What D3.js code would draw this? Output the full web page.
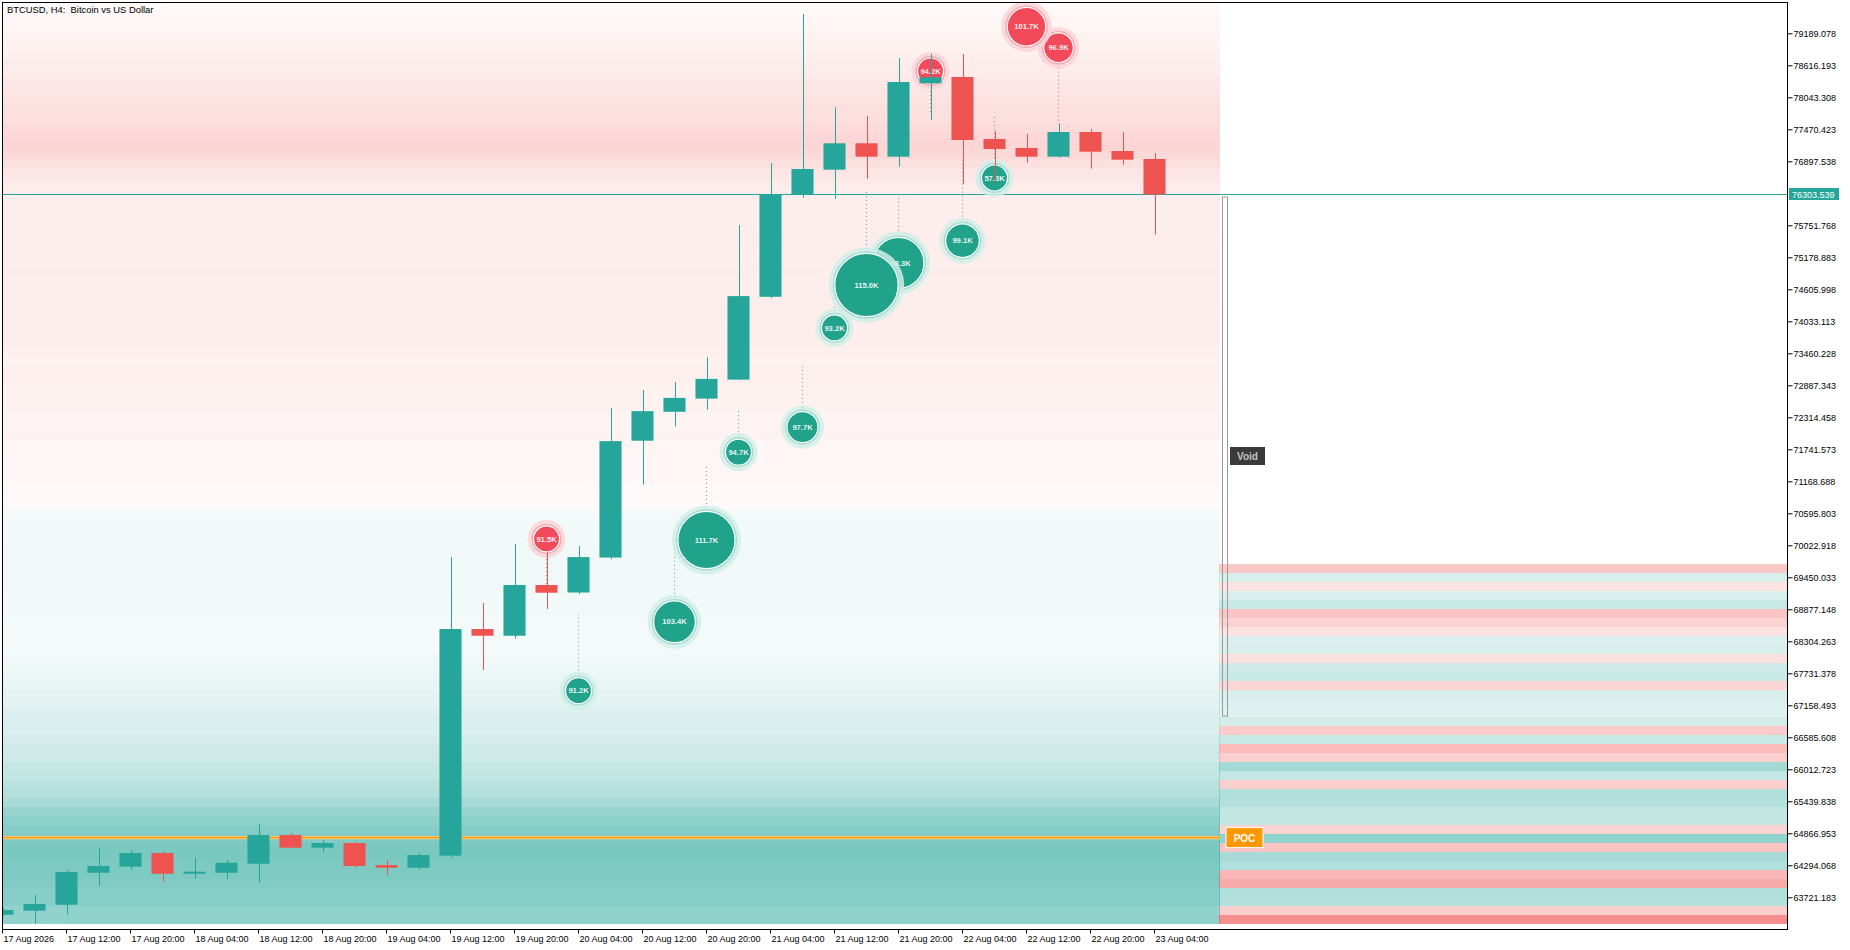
<!DOCTYPE html>
<html>
<head>
<meta charset="utf-8">
<script src="https://cdn.jsdelivr.net/npm/d3@7"></script>
<style>
  html, body { margin: 0; padding: 0; background: #fff; }
  svg { display: block; font-family: "Liberation Sans", Arial, sans-serif; }
</style>
</head>
<body>
<div id="chart"></div>
<script>
// candles, 4h bars from 17 Aug 04:00
const opens  = [63409, 63481, 63588, 64161, 64269, 64514, 64143, 64161, 64322, 64836, 64609, 64693, 64299, 64251, 64466, 68524, 68404, 69312, 69178, 69804, 71895, 72413, 72649, 72989, 74472, 76307, 76747, 77220, 76980, 78294, 78407, 77297, 77136, 76980, 77422, 77082, 76939];
const highs  = [63529, 63762, 64210, 64604, 64568, 64550, 64425, 64389, 65033, 64872, 64747, 64716, 64389, 64518, 69813, 68990, 70046, 69902, 70010, 72483, 72803, 72945, 73392, 75757, 76867, 79535, 77864, 77709, 78747, 78819, 78819, 77440, 77386, 77578, 77476, 77422, 77046];
const lows   = [63386, 63255, 63409, 63929, 64210, 64000, 64049, 64049, 63982, 64604, 64518, 64251, 64120, 64210, 64430, 67790, 68351, 68882, 69146, 69772, 71109, 72152, 72452, 72982, 74450, 76246, 76228, 76581, 76801, 77637, 76491, 76514, 76872, 76962, 76765, 76837, 75583];
const closes = [63493, 63601, 64174, 64281, 64514, 64143, 64179, 64340, 64836, 64609, 64693, 64281, 64251, 64478, 68524, 68404, 69312, 69174, 69812, 71888, 72425, 72662, 73002, 74484, 76307, 76760, 77220, 76980, 78317, 78401, 77279, 77118, 76980, 77422, 77069, 76926, 76303.539];

const timeLabels = ["17 Aug 2026", "17 Aug 12:00", "17 Aug 20:00", "18 Aug 04:00", "18 Aug 12:00", "18 Aug 20:00",
  "19 Aug 04:00", "19 Aug 12:00", "19 Aug 20:00", "20 Aug 04:00", "20 Aug 12:00", "20 Aug 20:00",
  "21 Aug 04:00", "21 Aug 12:00", "21 Aug 20:00", "22 Aug 04:00", "22 Aug 12:00", "22 Aug 20:00", "23 Aug 04:00"];

const priceLabels = ["63721.183", "64294.068", "64866.953", "65439.838", "66012.723", "66585.608", "67158.493",
  "67731.378", "68304.263", "68877.148", "69450.033", "70022.918", "70595.803", "71168.688", "71741.573",
  "72314.458", "72887.343", "73460.228", "74033.113", "74605.998", "75178.883", "75751.768", "76897.538",
  "77470.423", "78043.308", "78616.193", "79189.078"];

// volume bubbles
const bubbleBar   = [17, 18, 21, 22, 23, 25, 26, 27, 28, 30, 31, 29, 32, 33];
const bubbleVol   = [91.5, 91.2, 103.4, 111.7, 94.7, 97.7, 93.2, 115.0, 108.3, 99.1, 57.3, 94.2, 101.7, 96.9];
const bubbleSide  = ["sell", "buy", "buy", "buy", "buy", "buy", "buy", "buy", "buy", "buy", "buy", "sell", "sell", "sell"];
const bubblePrice = [70137, 67420, 68653, 70118, 71691, 72139, 73915, 74683, 75079, 75476, 76599, 78514, 79307, 78931];
const bubbleLink  = [69330, 68793, 70207, 71448, 72452, 73258, 74647, 76384, 76366, 76921, 77709, 77762, null, 77578];

// price heat rows (bin 0 at the bottom)
const binBase = 63243;
const binSize = 161.13;
const buyHeat = [0.50, 0.50, 0.55, 0.55, 0.58, 0.60, 0.60, 0.61, 0.61, 0.59, 0.56, 0.52, 0.48, 0.40, 0.35, 0.32,
  0.28, 0.27, 0.23, 0.22, 0.20, 0.17, 0.17, 0.16, 0.13, 0.12, 0.11, 0.09, 0.08, 0.07, 0.05, 0.05,
  0.05, 0.05, 0.06, 0.06, 0.06, 0.07, 0.07, 0.07, 0.07, 0.07, 0.06, 0.06, 0.06, 0.05];
const sellHeat = [0.03, 0.04, 0.04, 0.05, 0.05, 0.05, 0.06, 0.06, 0.07, 0.07, 0.07, 0.08, 0.08, 0.08, 0.09, 0.09,
  0.08, 0.09, 0.10, 0.10, 0.10, 0.11, 0.11, 0.10, 0.10, 0.10, 0.11, 0.10, 0.10, 0.11, 0.11, 0.10,
  0.10, 0.10, 0.10, 0.11, 0.13, 0.15, 0.18, 0.22, 0.24, 0.23, 0.21, 0.19, 0.18, 0.17, 0.15, 0.14,
  0.12, 0.11, 0.09, 0.08, 0.07, 0.06, 0.05, 0.04, 0.03];
// session profile rows, + buy / - sell
const profileDelta = [-0.65, -0.28, 0.35, 0.36, -0.49, -0.42, 0.36, 0.40, -0.34, 0.51, -0.26, 0.28, 0.28, 0.35,
  0.36, -0.28, 0.27, 0.42, -0.28, -0.39, 0.25, -0.30, 0.20, 0.15, 0.16, 0.175, -0.24, 0.25, 0.23, -0.18,
  0.175, 0.165, -0.17, -0.26, -0.34, 0.25, 0.175, -0.17, 0.19, -0.32];

const lastPrice = 76303.539;
const pocPrice = 64790;
const voidTop = 76258;
const voidBottom = 66966;

const UP = "#26a69a", DOWN = "#ef5350";

const width = 1850, height = 950;
const frame = { left: 2, top: 2, right: 1787, bottom: 929 };
const heatRight = 1220;

const svg = d3.select("#chart").append("svg")
  .attr("width", width)
  .attr("height", height);

svg.append("defs").append("clipPath").attr("id", "plotClip")
  .append("rect")
  .attr("x", frame.left).attr("y", frame.top)
  .attr("width", frame.right - frame.left).attr("height", frame.bottom - frame.top);

const y = d3.scaleLinear().domain([63721.183, 79189.078]).range([897.3, 33.3]);
const x = d3.scaleBand()
  .domain(d3.range(opens.length))
  .range([-13.5, 1170.5])
  .paddingInner(0.31)
  .paddingOuter(0.155);
const cx = i => x(i) + x.bandwidth() / 2;

const plot = svg.append("g").attr("clip-path", "url(#plotClip)");

// heat rows behind the candles
const heatRows = buyHeat.map((a, j) => ({ j, a, c: UP }))
  .concat(sellHeat.map((a, k) => ({ j: buyHeat.length + k, a, c: DOWN })));

plot.append("g").selectAll("rect")
  .data(heatRows)
  .join("rect")
  .attr("x", frame.left)
  .attr("width", heatRight - frame.left)
  .attr("y", d => y(binBase + (d.j + 1) * binSize))
  .attr("height", d => y(binBase + d.j * binSize) - y(binBase + (d.j + 1) * binSize))
  .attr("fill", d => d.c)
  .attr("fill-opacity", d => d.a)
  .attr("shape-rendering", "crispEdges");

// profile on the right
plot.append("g").selectAll("rect")
  .data(profileDelta)
  .join("rect")
  .attr("x", heatRight - 1)
  .attr("width", frame.right - heatRight + 1)
  .attr("y", (d, j) => y(binBase + (j + 1) * binSize))
  .attr("height", (d, j) => y(binBase + j * binSize) - y(binBase + (j + 1) * binSize))
  .attr("fill", d => d > 0 ? UP : DOWN)
  .attr("fill-opacity", d => Math.abs(d))
  .attr("shape-rendering", "crispEdges");

// void zone
plot.append("rect")
  .attr("x", heatRight + 2.5)
  .attr("y", y(voidTop))
  .attr("width", 5)
  .attr("height", y(voidBottom) - y(voidTop))
  .attr("fill", "none")
  .attr("stroke", "#9a9a9a")
  .attr("stroke-width", 1);

// POC line
plot.append("line")
  .attr("x1", frame.left).attr("x2", heatRight)
  .attr("y1", y(pocPrice)).attr("y2", y(pocPrice))
  .attr("stroke", "#ffc870").attr("stroke-width", 3.2);
plot.append("line")
  .attr("x1", frame.left).attr("x2", heatRight)
  .attr("y1", y(pocPrice)).attr("y2", y(pocPrice))
  .attr("stroke", "#f39c12").attr("stroke-width", 1.2);

// last price line
plot.append("line")
  .attr("x1", frame.left).attr("x2", frame.right)
  .attr("y1", Math.round(y(lastPrice)) + 0.5).attr("y2", Math.round(y(lastPrice)) + 0.5)
  .attr("stroke", UP).attr("stroke-width", 1);

// bubbles, small ones first so big ones sit on top
const rScale = d3.scaleLinear().domain([95, 115]).range([13, 31.7]).clamp(true);
const bubbles = bubbleBar.map((i, k) => ({
  i, v: bubbleVol[k], side: bubbleSide[k], p: bubblePrice[k], link: bubbleLink[k]
})).sort((a, b) => a.v - b.v);

const style = {
  buy:  { core: "#20a38a", ring: "#a3dbce", halo: "#d0eee7", dots: UP },
  sell: { core: "#f24a5a", ring: "#f7a6ae", halo: "#fcd3d8", dots: DOWN }
};

const bub = plot.append("g").selectAll("g")
  .data(bubbles)
  .join("g")
  .attr("transform", d => `translate(${cx(d.i)},${y(d.p)})`);

bub.filter(d => d.link !== null).append("line")
  .attr("x1", 0).attr("x2", 0)
  .attr("y1", 0)
  .attr("y2", d => y(d.link) - y(d.p))
  .attr("stroke", d => style[d.side].dots)
  .attr("stroke-width", 1)
  .attr("stroke-dasharray", "1,3")
  .attr("opacity", 0.85);

bub.append("circle")
  .attr("r", d => rScale(d.v) + 6)
  .attr("fill", d => style[d.side].halo)
  .attr("fill-opacity", 0.85);
bub.append("circle")
  .attr("r", d => rScale(d.v) + 2)
  .attr("fill", d => style[d.side].ring);
bub.append("circle")
  .attr("r", d => rScale(d.v))
  .attr("fill", d => style[d.side].core)
  .attr("stroke", "#ffffff")
  .attr("stroke-width", 1.2);
bub.append("text")
  .attr("text-anchor", "middle")
  .attr("dy", "0.35em")
  .attr("fill", "#ffffff")
  .attr("fill-opacity", 0.92)
  .attr("font-size", "7.6px")
  .attr("font-weight", "bold")
  .text(d => d.v.toFixed(1) + "K");

// candles
const candles = opens.map((o, i) => ({ i, o, h: highs[i], l: lows[i], c: closes[i] }));
const cg = plot.append("g").selectAll("g")
  .data(candles)
  .join("g");

cg.append("line")
  .attr("x1", d => Math.round(cx(d.i)) + 0.5)
  .attr("x2", d => Math.round(cx(d.i)) + 0.5)
  .attr("y1", d => y(d.h))
  .attr("y2", d => y(d.l))
  .attr("stroke", d => d.c >= d.o ? UP : DOWN)
  .attr("stroke-width", 1);

cg.append("rect")
  .attr("x", d => x(d.i))
  .attr("width", x.bandwidth())
  .attr("y", d => y(Math.max(d.o, d.c)))
  .attr("height", d => Math.max(1.5, Math.abs(y(d.o) - y(d.c))))
  .attr("fill", d => d.c >= d.o ? UP : DOWN);

// labels on the right side
const poc = svg.append("g").attr("transform", `translate(${heatRight + 6},${y(pocPrice) - 10})`);
poc.append("rect").attr("width", 37).attr("height", 20)
  .attr("fill", "#ff9800").attr("stroke", "#ffffff").attr("stroke-width", 1);
poc.append("text").attr("x", 18.5).attr("y", 14).attr("text-anchor", "middle")
  .attr("fill", "#ffffff").attr("font-size", "10px").attr("font-weight", "bold").text("POC");

const vlab = svg.append("g").attr("transform", `translate(${heatRight + 10},${447})`);
vlab.append("rect").attr("width", 35).attr("height", 18).attr("fill", "#3a3a3a");
vlab.append("text").attr("x", 17.5).attr("y", 13).attr("text-anchor", "middle")
  .attr("fill", "#c4c4c4").attr("font-size", "10px").attr("font-weight", "bold").text("Void");

// axes
const yAxis = d3.axisRight(y)
  .tickValues(priceLabels.map(Number))
  .tickFormat((d, k) => priceLabels[k])
  .tickSize(5)
  .tickPadding(1);

const ya = svg.append("g")
  .attr("transform", `translate(${frame.right + 0.5},0)`)
  .call(yAxis);
ya.select(".domain").remove();
ya.selectAll("line").attr("stroke", "#000");
ya.selectAll("text").attr("fill", "#000").attr("font-size", "9px")
  .attr("font-family", "'Liberation Sans', Arial, sans-serif");

const xAxis = d3.axisBottom(x)
  .tickValues(d3.range(0, opens.length, 2))
  .tickFormat(i => timeLabels[i / 2])
  .tickSize(4)
  .tickPadding(2);

const xa = svg.append("g")
  .attr("transform", `translate(0,${frame.bottom + 0.5})`)
  .call(xAxis);
xa.select(".domain").remove();
xa.selectAll("line").attr("stroke", "#000");
xa.selectAll("text").attr("fill", "#000").attr("font-size", "9px")
  .attr("text-anchor", "start").attr("x", 1)
  .attr("font-family", "'Liberation Sans', Arial, sans-serif");

// frame
svg.append("rect")
  .attr("x", frame.left + 0.5).attr("y", frame.top + 0.5)
  .attr("width", frame.right - frame.left).attr("height", frame.bottom - frame.top)
  .attr("fill", "none").attr("stroke", "#000").attr("stroke-width", 1);

// last price tag
const tagY = Math.round(y(lastPrice)) + 0.5;
svg.append("rect")
  .attr("x", frame.right + 2).attr("y", tagY - 6.5)
  .attr("width", 50).attr("height", 12)
  .attr("fill", UP);
svg.append("text")
  .attr("x", frame.right + 5).attr("y", tagY + 3.2)
  .attr("fill", "#ffffff").attr("font-size", "9px")
  .text(lastPrice.toFixed(3));

// title
svg.append("text")
  .attr("x", 7).attr("y", 12.5)
  .attr("fill", "#000").attr("font-size", "9.4px")
  .style("white-space", "pre")
  .text("BTCUSD, H4:  Bitcoin vs US Dollar");
</script>
</body>
</html>
